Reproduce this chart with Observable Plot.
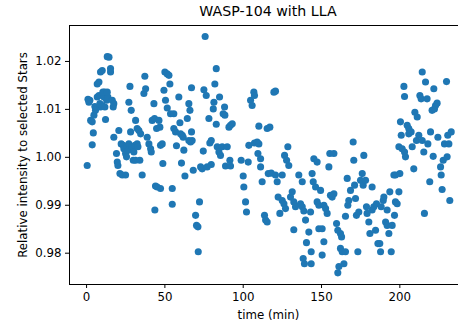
<!DOCTYPE html>
<html>
<head>
<meta charset="utf-8">
<script src="https://cdn.jsdelivr.net/npm/d3@7"></script>
<script src="https://cdn.jsdelivr.net/npm/@observablehq/plot@0.6"></script>
<style>
  html, body { margin: 0; padding: 0; background: #fff; overflow: hidden; }
  #wrap { position: relative; width: 458px; height: 329px; overflow: hidden; }
  #title { position: absolute; top: 3px; left: 0; width: 536px; text-align: center;
           font-family: "DejaVu Sans", sans-serif; font-size: 14.2px; color: #000; z-index: 2; }
  #wrap svg { position: absolute; top: 0; left: 0; max-width: none !important; width: 467px !important; height: 329px !important; }
</style>
</head>
<body>
<div id="wrap"><div id="title">WASP-104 with LLA</div></div>
<script>
const title = "WASP-104 with LLA";
const xLabel = "time (min)";
const yLabel = "Relative intensity to selected Stars";
const xTicks = [0, 50, 100, 150, 200];
const yTicks = [0.98, 0.99, 1.00, 1.01, 1.02];

const time = [
  0.4, 0.9, 2.1, 1.5, 2.6, 3.6, 4.3, 3.6, 4.7, 5.7, 5.3, 6.8, 7.9, 6.8, 7.9, 8.9, 10.0, 8.9, 10.0, 8.5,
  11.1, 11.5, 12.1, 12.8, 13.6, 14.3, 13.2, 15.3, 15.3, 16.4, 17.0, 10.4, 13.2, 11.7, 17.4,
  17.4, 19.1, 19.6, 20.0, 20.6, 21.3, 22.8, 22.1, 23.4, 23.8, 24.9, 25.5, 24.9, 26.0, 27.0, 26.6,
  27.7, 27.0, 28.5, 28.1, 29.1, 30.2, 29.8, 31.3, 30.9,
  31.3, 32.3, 33.4, 34.5, 32.3, 32.8, 34.0, 35.5, 36.6, 37.7, 37.2, 38.7, 39.8, 40.9, 41.3,
  43.0, 41.9, 43.4, 44.7, 44.0, 45.1, 47.2, 43.6, 46.2, 46.8, 47.2, 48.3, 48.7, 49.4, 50.0,
  51.5, 50.4, 51.5, 52.6, 53.2, 53.6, 54.7, 54.7,
  55.7, 55.7, 56.8, 57.4, 58.9, 59.6, 60.0, 61.1, 61.7, 60.6, 62.1, 62.8, 64.3, 65.3, 66.0,
  66.4, 67.0, 67.0, 67.4, 68.1, 65.3,
  69.6, 70.2, 71.1, 71.3, 72.1, 72.8, 73.8, 74.5, 74.9, 75.7, 76.4, 77.0, 78.1, 78.7, 79.6,
  79.6, 80.9, 81.3, 81.9, 82.8, 82.8, 83.4, 84.5, 84.9, 85.5, 86.6, 87.2, 88.3, 88.1, 88.7,
  89.8, 90.9, 91.9, 91.5, 91.9, 93.0,
  98.7, 100.0, 100.4, 101.5, 102.1, 103.2, 103.6, 104.7, 105.7, 106.8, 107.2, 107.2,
  108.9, 110.0, 109.4, 111.1, 110.0, 111.1, 112.1, 113.6, 114.3, 115.3, 115.3, 117.0, 116.0,
  117.9, 119.6, 120.6,
  120.6, 121.7, 122.3, 123.4, 124.9, 126.0, 127.0, 124.9, 126.4, 127.7, 128.5, 129.1, 130.2,
  131.3, 132.3, 132.3, 133.4,
  135.5, 136.6, 137.7, 137.7, 138.7, 139.8, 140.4, 141.9, 143.0, 143.4, 144.0, 144.7, 138.3,
  139.1, 143.4, 145.1, 147.2,
  146.2, 147.2, 148.3, 148.3, 150.4, 149.4, 150.4, 151.5, 152.6, 151.5, 153.6, 154.7, 155.3,
  155.7, 156.8, 157.9, 157.9,
  159.6, 160.4, 160.4, 161.1, 162.1, 162.8, 162.1, 163.2, 164.3, 165.3, 165.3, 166.4, 166.8,
  167.4, 168.5, 170.2, 170.6,
  171.1, 171.7, 172.3, 173.2, 173.8, 174.9, 176.0, 176.6, 177.0, 178.1, 178.7, 179.1, 180.2,
  180.9, 182.3, 182.3, 183.4,
  184.5, 185.1, 186.0, 187.2, 187.7, 188.1, 189.4, 189.8, 190.9, 191.9, 191.9, 193.0, 193.6,
  194.5, 195.1, 196.2, 197.2, 196.6, 197.2, 198.3, 199.4,
  200.4, 200.0, 199.4, 200.9, 201.5, 202.6, 203.0, 203.0, 203.6, 204.7, 205.7, 205.7, 207.2,
  207.9, 208.9, 209.6, 211.1, 210.6, 212.1,
  214.3, 212.8, 213.6, 214.3, 215.3, 215.7, 216.4, 217.4, 217.9, 219.1, 219.6, 220.6, 221.3,
  221.7, 222.1, 222.8, 223.8, 224.3, 226.0, 226.4, 227.0, 227.7, 228.5, 229.8, 230.2, 230.6,
  231.3, 231.9, 232.8
];

const intensity = [
  0.9983, 1.0121, 1.0119, 1.0115, 1.0077, 1.0074, 1.0051, 1.0026, 1.0088, 1.0098, 1.0106, 1.0126, 1.0129, 1.0153, 1.0157, 1.0178, 1.0181, 1.0105, 1.0108, 1.0112,
  1.0126, 1.0136, 1.0079, 1.0119, 1.0126, 1.0209, 1.0210, 1.0185, 1.0178, 1.0119, 1.0105, 1.0136, 1.0136, 1.0105, 1.0112,
  1.0042, 1.0008, 0.9990, 0.9983, 1.0056, 0.9966, 0.9963, 1.0028, 1.0025, 1.0018, 1.0008, 1.0001, 0.9963, 1.0022, 1.0028, 1.0015,
  1.0148, 1.0115, 1.0098, 1.0053, 1.0022, 1.0011, 0.9994, 0.9994, 1.0025,
  1.0077, 1.0060, 1.0056, 1.0049, 1.0028, 1.0022, 0.9994, 0.9963, 1.0133, 1.0143, 1.0169, 1.0042, 1.0028, 1.0018, 1.0011,
  1.0112, 1.0077, 1.0081, 1.0060, 0.9940, 0.9938, 0.9935, 0.9890, 1.0077, 1.0063, 1.0025, 1.0028, 0.9987, 1.0140, 1.0178,
  1.0174, 1.0119, 1.0103, 1.0171, 1.0153, 1.0091, 0.9935, 0.9902,
  1.0091, 1.0060, 1.0053, 1.0024, 1.0126, 1.0072, 1.0049, 1.0046, 1.0042, 0.9988, 1.0015, 0.9961, 1.0081, 1.0112, 1.0098,
  1.0032, 1.0145, 1.0053, 1.0035, 0.9973, 1.0035,
  0.9879, 0.9858, 0.9855, 0.9803, 0.9907, 0.9980, 0.9976, 1.0013, 1.0141, 1.0252, 1.0129, 0.9980, 1.0081, 1.0030, 1.0035,
  0.9985, 1.0101, 1.0115, 1.0153, 1.0185, 1.0069, 1.0022, 1.0011, 1.0126, 1.0004, 1.0022, 1.0091, 1.0088, 1.0105, 0.9982,
  1.0022, 1.0063, 1.0067, 0.9994, 0.9982, 1.0070,
  0.9994, 0.9961, 0.9938, 0.9907, 0.9886, 0.9990, 1.0025, 1.0119, 1.0108, 1.0136, 1.0129, 1.0030,
  1.0032, 1.0028, 1.0008, 0.9997, 1.0065, 0.9980, 0.9949, 0.9879, 0.9869, 0.9865, 1.0060, 1.0063, 0.9966,
  0.9967, 1.0136, 1.0138,
  0.9963, 0.9949, 0.9917, 0.9883, 0.9910, 0.9903, 0.9893, 0.9963, 1.0004, 0.9994, 1.0022, 0.9983, 0.9917,
  0.9928, 0.9849, 0.9907, 0.9897,
  0.9963, 0.9903, 0.9949, 0.9897, 0.9888, 0.9869, 0.9822, 0.9844, 0.9886, 0.9803, 0.9966, 0.9949, 0.9789,
  0.9778, 0.9778, 0.9997, 0.9990,
  0.9938, 0.9907, 0.9900, 0.9851, 0.9851, 0.9931, 0.9796, 0.9900, 0.9893, 0.9824, 0.9883, 0.9980, 1.0008,
  0.9921, 0.9917, 0.9924, 1.0008,
  0.9862, 0.9848, 0.9759, 0.9772, 0.9841, 0.9834, 0.9810, 0.9803, 0.9778, 0.9803, 0.9877, 0.9956, 0.9900,
  0.9910, 0.9931, 1.0032, 0.9994,
  0.9942, 0.9914, 0.9879, 0.9803, 0.9886, 0.9952, 0.9966, 0.9942, 1.0004, 0.9952, 0.9897, 0.9883, 0.9865,
  0.9841, 0.9938, 0.9890, 0.9897,
  0.9848, 0.9903, 0.9820, 0.9820, 0.9803, 0.9897, 0.9910, 0.9917, 0.9865, 0.9890, 0.9858, 0.9841, 0.9928,
  0.9803, 0.9858, 0.9963, 0.9963, 0.9879, 0.9907, 0.9903, 0.9928,
  1.0074, 0.9966, 1.0022, 1.0046, 1.0018, 1.0148, 1.0127, 1.0011, 1.0001, 1.0067, 1.0060, 1.0049, 1.0053,
  1.0022, 0.9976, 1.0094, 1.0084, 1.0035, 1.0046,
  1.0178, 1.0129, 1.0122, 1.0035, 1.0011, 0.9883, 1.0157, 1.0122, 1.0028, 0.9949, 1.0053, 1.0098, 1.0002,
  1.0143, 1.0101, 1.0108, 1.0113, 1.0042, 0.9980, 0.9963, 0.9933, 0.9994, 1.0028, 1.0158, 1.0001, 1.0046,
  1.0028, 0.9910, 1.0053
];

const data = time.map((t, i) => ({t, v: intensity[i]}));

const chart = Plot.plot({
  width: 467,
  height: 329,
  marginLeft: 69,
  marginRight: 0,
  marginTop: 25,
  marginBottom: 45,
  style: {fontFamily: "DejaVu Sans, sans-serif", fontSize: "11.8px", color: "#000", background: "#fff", overflow: "visible", maxWidth: "none"},
  x: {domain: [-10.9, 243.2]},
  y: {domain: [0.97347, 1.0275]},
  marks: [
    Plot.dot(data, {x: "t", y: "v", r: 3.55, fill: "#1f77b4", stroke: "none"}),
    Plot.axisX({ticks: xTicks, tickSize: 4, tickPadding: 4, tickFormat: d => String(d),
      label: xLabel, labelAnchor: "center", labelArrow: "none", labelOffset: 34,
      stroke: "#000", strokeWidth: 1}),
    Plot.axisY({ticks: yTicks, tickSize: 4, tickPadding: 4, tickFormat: d3.format(".2f"),
      label: yLabel, labelAnchor: "center", labelArrow: "none", labelOffset: 51,
      stroke: "#000", strokeWidth: 1}),
    Plot.frame({stroke: "#000", strokeWidth: 1})
  ]
});
document.getElementById("wrap").prepend(chart);
</script>
</body>
</html>
